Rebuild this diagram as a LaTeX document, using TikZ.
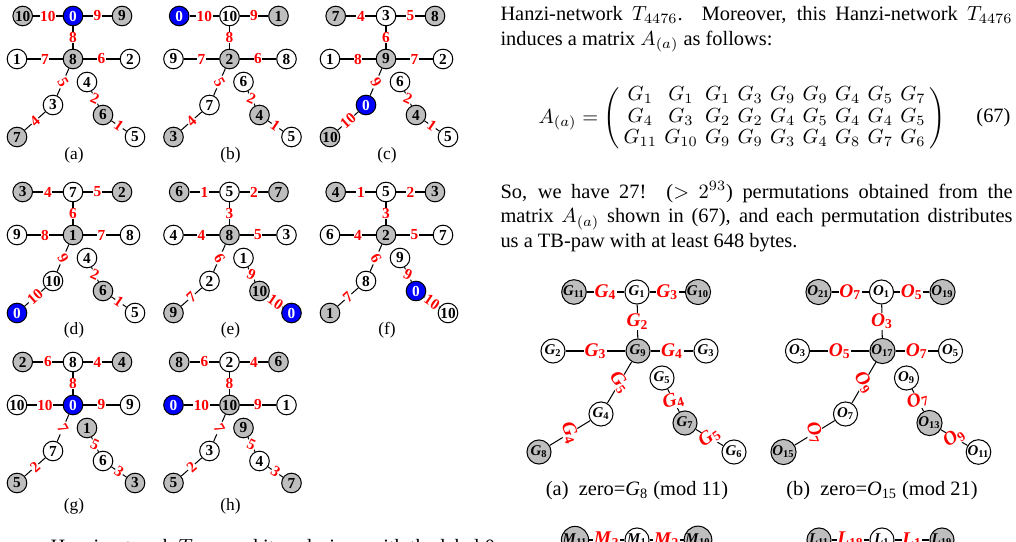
\documentclass[tikz,border=0pt]{standalone}
\usepackage{fontspec}
\setmainfont{Liberation Serif}
\definecolor{ngraycol}{RGB}{190,190,190}
\newcommand\tg[4]{%
\begin{scope}[shift={#2}]
\foreach \nst/\lab [count=\i] in {#3}{
  \pgfmathsetmacro\px{{22.7,73,122,17,73,130,53,17,87,103,135}[\i-1]}
  \pgfmathsetmacro\py{{16,16,16,59,59,59,105,137,82,115,137}[\i-1]}
  \node[\nst] (#1\i) at (\px,\py) {\lab};
}
\foreach \lab [count=\j] in {#4}{
  \pgfmathtruncatemacro\ea{{1,2,2,4,5,5,7,9,10}[\j-1]}
  \pgfmathtruncatemacro\eb{{2,3,5,5,6,7,8,10,11}[\j-1]}
  \draw (#1\ea) -- node[el,elr\j] {\lab} (#1\eb);
}
\end{scope}}
\newcommand\rg[4]{%
\begin{scope}[shift={#2}]
\foreach \nst/\le/\su [count=\i] in {#3}{
  \pgfmathsetmacro\px{{574,637,698,553,638,706,601,539,662,685,734}[\i-1]}
  \pgfmathsetmacro\py{{292,292,292,351,351,351,414,452,378,423,452}[\i-1]}
  \node[\nst,bigv] (#1\i) at (\px,\py) {\textit{\le}\textsubscript{\su}};
}
\foreach \le/\su [count=\j] in {#4}{
  \pgfmathtruncatemacro\ea{{1,2,2,4,5,5,7,9,10}[\j-1]}
  \pgfmathtruncatemacro\eb{{2,3,5,5,6,7,8,10,11}[\j-1]}
  \draw (#1\ea) -- node[bel,belr\j] {\textit{\le}\textsubscript{\su}} (#1\eb);
}
\end{scope}}
\begin{document}
\begin{tikzpicture}[x=0.49pt,y=-0.49pt,line width=0.5pt,
  sv/.style={circle,draw,line width=0.5pt,minimum size=9.6pt,inner sep=0pt,font=\fontsize{7.5}{8}\selectfont\bfseries},
  nw/.style={sv,fill=white},
  ng/.style={sv,fill=ngraycol},
  nb/.style={sv,fill=blue,text=white},
  el/.style={fill=white,inner sep=0.3pt,text=red,font=\fontsize{7.5}{8}\selectfont\bfseries},
  elr1/.style={},elr2/.style={},elr3/.style={},elr4/.style={},elr5/.style={},
  elr6/.style={rotate=-60},elr7/.style={sloped},elr8/.style={rotate=-25},elr9/.style={sloped},
  bigv/.style={minimum size=11.8pt,font=\fontsize{7.3}{8}\selectfont\bfseries},
  bel/.style={fill=white,inner sep=0.3pt,text=red,font=\fontsize{9.5}{10}\selectfont\bfseries},
  belr1/.style={},belr2/.style={},belr3/.style={},belr4/.style={},belr5/.style={},
  belr6/.style={rotate=-55},belr7/.style={rotate=-70},belr8/.style={rotate=15},belr9/.style={rotate=35},
  scap/.style={font=\fontsize{8.5}{10}\selectfont},
  rcap/.style={font=\fontsize{10}{12}\selectfont},
  para/.style={anchor=north west,inner sep=0pt,text width=250.9pt,align=justify,font=\fontsize{10}{12}\selectfont}
  ]
\useasboundingbox (0,0) rectangle (1016,542);
\clip (0,0) rectangle (1016,542);
% ---- small graphs ----
\tg{a}{(0,0)}{ng/10,nb/0,ng/9,nw/1,ng/8,nw/2,nw/3,ng/7,nw/4,ng/6,nw/5}{10,9,8,7,6,5,4,2,1}
\tg{b}{(156.5,0)}{nb/0,nw/10,ng/1,nw/9,ng/2,nw/8,nw/7,ng/3,nw/6,ng/4,nw/5}{10,9,8,7,6,5,4,2,1}
\tg{c}{(313,0)}{ng/7,nw/3,ng/8,nw/1,ng/9,nw/2,nb/0,ng/10,nw/6,ng/4,nw/5}{4,5,6,8,7,9,10,2,1}
\tg{d}{(0,176)}{ng/3,nw/7,ng/2,nw/9,ng/1,nw/8,nw/10,nb/0,nw/4,ng/6,nw/5}{4,5,6,8,7,9,10,2,1}
\tg{e}{(156.5,176)}{ng/6,nw/5,ng/7,nw/4,ng/8,nw/3,nw/2,ng/9,nw/1,ng/10,nb/0}{1,2,3,4,5,6,7,9,10}
\tg{f}{(313,176)}{ng/4,nw/5,ng/3,nw/6,ng/2,nw/7,nw/8,ng/1,nw/9,nb/0,nw/10}{1,2,3,4,5,6,7,9,10}
\tg{g}{(0,346)}{ng/2,nw/8,ng/4,nw/10,nb/0,nw/9,nw/7,ng/5,ng/1,nw/6,ng/3}{6,4,8,10,9,7,2,5,3}
\tg{h}{(156.5,346)}{ng/8,nw/2,ng/6,nb/0,ng/10,nw/1,nw/3,ng/5,ng/9,nw/4,ng/7}{6,4,8,10,9,7,2,5,3}
\node[scap] (capa) at (74,155) {(a)};
\node[scap] (capb) at (230.5,155) {(b)};
\node[scap] (capc) at (387,155) {(c)};
\node[scap] (capd) at (74,330) {(d)};
\node[scap] (cape) at (230.5,330) {(e)};
\node[scap] (capf) at (387,330) {(f)};
\node[scap] (capg) at (74,506) {(g)};
\node[scap] (caph) at (230.5,506) {(h)};
% ---- right column text ----
\node[para] (t1) at (500,6) {Hanzi-network $T_{4476}$. Moreover, this Hanzi-network $T_{4476}$\linebreak induces a matrix $A_{(a)}$ as follows:};
\node[font=\fontsize{10}{12}\selectfont,inner sep=0pt] (eq) at (742,118) {$A_{(a)}=\left(\arraycolsep=1.8pt\def\arraystretch{0.88}\begin{array}{ccccccccc}
G_1 & G_1 & G_1 & G_3 & G_9 & G_9 & G_4 & G_5 & G_7\\
G_4 & G_3 & G_2 & G_2 & G_4 & G_5 & G_4 & G_4 & G_5\\
G_{11} & G_{10} & G_9 & G_9 & G_3 & G_4 & G_8 & G_7 & G_6
\end{array}\right)$};
\node[font=\fontsize{10}{12}\selectfont,inner sep=0pt,anchor=east] (eqn) at (1011,118) {(67)};
\node[para] (t2) at (500,181) {So, we have 27! ($>$ $2^{93}$) permutations obtained from the\linebreak matrix $A_{(a)}$ shown in (67), and each permutation distributes\linebreak us a TB-paw with at least 648 bytes.};
% ---- right graphs ----
\rg{G}{(0,0)}{ng/G/11,nw/G/1,ng/G/10,nw/G/2,ng/G/9,nw/G/3,nw/G/4,ng/G/8,nw/G/5,ng/G/7,nw/G/6}{G/4,G/3,G/2,G/3,G/4,G/5,G/4,G/4,G/5}
\rg{O}{(244.5,0)}{ng/O/21,nw/O/1,ng/O/19,nw/O/3,ng/O/17,nw/O/5,nw/O/7,ng/O/15,nw/O/9,ng/O/13,nw/O/11}{O/7,O/5,O/3,O/5,O/7,O/9,O/7,O/7,O/9}
\node[rcap] (rcapa) at (637,491) {(a)\enspace zero=\textit{G}\textsubscript{8} (mod 11)};
\node[rcap] (rcapb) at (882,491) {(b)\enspace zero=\textit{O}\textsubscript{15} (mod 21)};
% ---- partial graphs at the bottom ----
\node[ng,bigv] (M11) at (575,540) {\textit{M}\textsubscript{11}};
\node[nw,bigv] (M1) at (637,540) {\textit{M}\textsubscript{1}};
\node[ng,bigv] (M10) at (698,540) {\textit{M}\textsubscript{10}};
\draw (M11) -- node[bel] {\textit{M}\textsubscript{3}} (M1);
\draw (M1) -- node[bel] {\textit{M}\textsubscript{2}} (M10);
\node[ng,bigv] (L11) at (819,540) {\textit{L}\textsubscript{11}};
\node[nw,bigv] (L1) at (882,540) {\textit{L}\textsubscript{1}};
\node[ng,bigv] (L19) at (942,540) {\textit{L}\textsubscript{19}};
\draw (L11) -- node[bel] {\textit{L}\textsubscript{18}} (L1);
\draw (L1) -- node[bel] {\textit{L}\textsubscript{1}} (L19);
% ---- clipped caption line ----
\node[anchor=base west,inner sep=0pt,font=\fontsize{10}{12}\selectfont] (botcap) at (50,554) {Hanzi-network $T_{4476}$ and its colorings with the label 0};
\end{tikzpicture}
\end{document}
